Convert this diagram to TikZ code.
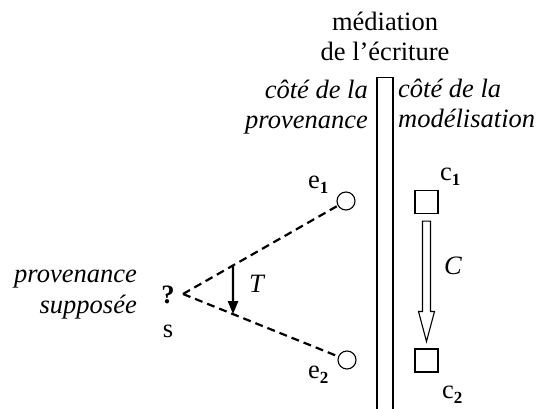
\documentclass[tikz,border=0pt]{standalone}
\usepackage{fontspec}
\setmainfont{Liberation Serif}
\usetikzlibrary{arrows.meta,calc}
\newcommand\sbs[1]{\raisebox{-5pt}{\fontsize{17}{17}\selectfont\bfseries #1}}
\begin{document}
\begin{tikzpicture}[x=1pt,y=-1pt,
  lbl/.style={font=\fontsize{26.5}{30.5}\selectfont, inner sep=0pt},
  ilbl/.style={font=\fontsize{26.5}{30.5}\selectfont\itshape, inner sep=0pt},
  dashline/.style={line width=2.2pt, dash pattern=on 8pt off 5pt},
  pt/.style={circle, draw, line width=1.1pt, minimum size=18pt, inner sep=0pt},
  sq/.style={rectangle, draw, line width=1.1pt, minimum size=23pt, inner sep=0pt},
  barbox/.style={rectangle, draw, line width=1.2pt, minimum width=16pt, minimum height=345pt, inner sep=0pt}]
\useasboundingbox (0,0) rectangle (538,409);
\fill[white] (0,0) rectangle (538,409);

% title and bar
\node[lbl, align=center, anchor=base] (title) at (385,61) {médiation\\de l’écriture};
\node[barbox, anchor=north] (bar) at (385,77) {};

% side captions
\node[ilbl, align=right, anchor=base east] (lside) at (368,129) {côté de la\\provenance};
\node[ilbl, align=left, anchor=base west] (rside) at (398,128) {côté de la\\modélisation};
\node[ilbl, align=right, anchor=base east] (supp) at (137,313) {provenance\\supposée};

% source
\node[lbl, font=\fontsize{26.5}{30.5}\selectfont\bfseries] (q) at (168,295) {?};
\node[lbl, anchor=base] (slbl) at (168,337) {s};
\coordinate (src) at (183,294);

% circles e1, e2
\node[pt] (e1) at (346,201) {};
\node[pt] (e2) at (347,360) {};
\node[lbl, anchor=base west] (e1l) at (308,188) {e\sbs{1}};
\node[lbl, anchor=base west] (e2l) at (308,378) {e\sbs{2}};

\draw[dashline] (src) -- (e1);
\draw[dashline] (src) -- (e2);

% transformation T
\coordinate (ta) at ($(src)!0.307!(e1.center)$);
\coordinate (tb) at ($(src)!0.305!(e2.center)$);
\draw[line width=2.4pt, -{Triangle[length=13pt,width=10pt]}] (ta) -- (tb);
\node[ilbl, anchor=base west] (tl) at (249,292) {T};

% squares c1, c2
\node[sq] (c1) at (426.5,202) {};
\node[sq] (c2) at (426.5,360.5) {};
\node[lbl, anchor=base west] (c1l) at (440,180) {c\sbs{1}};
\node[lbl, anchor=base west] (c2l) at (442,398) {c\sbs{2}};

% hollow arrow C
\coordinate (ca) at ($(c1.south)+(0,7)$);
\coordinate (cb) at ($(c2.north)+(0,-7)$);
\draw[line width=1.1pt, line join=miter]
  ($(ca)+(-4,0)$) -- ($(ca)+(4,0)$) -- ($(cb)+(4,-30)$) -- ($(cb)+(8,-30)$)
  -- (cb) -- ($(cb)+(-8,-30)$) -- ($(cb)+(-4,-30)$) -- cycle;
\node[ilbl, anchor=base west] (cl) at (444,274) {C};
\end{tikzpicture}
\end{document}
